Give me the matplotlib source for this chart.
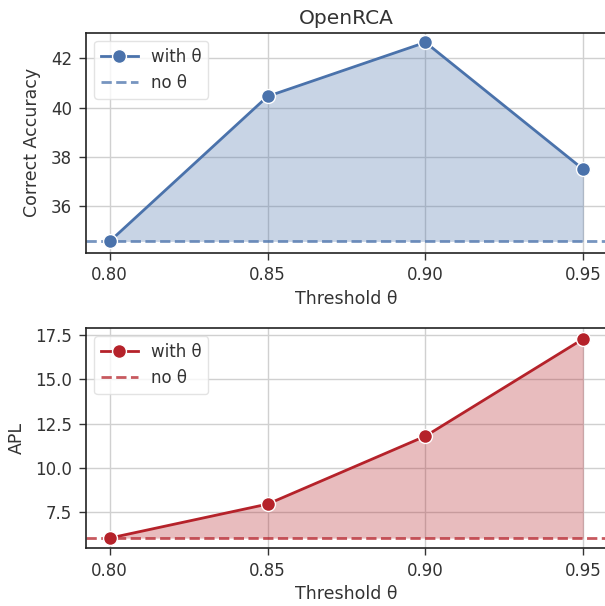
import matplotlib
matplotlib.use("Agg")
import matplotlib.pyplot as plt
import numpy as np

thresholds = [0.80, 0.85, 0.90, 0.95]
acc_with = [34.58, 40.46, 42.65, 37.50]
acc_base = 34.58
apl_with = [6.03, 7.95, 11.79, 17.29]
apl_base = 6.03

blue = "#4a72ab"
red = "#b5222a"

plt.rcParams['font.family'] = ['DejaVu Sans']
fig = plt.figure(figsize=(6.05, 6.06), dpi=100)
ax1 = fig.add_axes([86/605, 1-252.5/606, 521/605, 220/606])
ax2 = fig.add_axes([86/605, 1-548/606, 521/605, 220/606])

def panel(ax, y, base, color, ylabel):
    ax.grid(True, color="#d0d0d0", linewidth=1.0, zorder=0)
    ax.set_axisbelow(True)
    ax.fill_between(thresholds, y, base, color=color, alpha=0.3, linewidth=0, zorder=1)
    ax.plot(thresholds, y, marker='o', color=color, linewidth=2, markersize=10,
            markeredgecolor='white', markeredgewidth=1, label="with θ", zorder=3)
    ax.axhline(base, color=color, linestyle='--', linewidth=2, alpha=0.75, label="no θ", zorder=2)
    ax.set_xlim(0.7925, 0.9575)
    ax.set_xticks(thresholds)
    ax.set_xticklabels(["0.80", "0.85", "0.90", "0.95"])
    ax.set_xlabel("Threshold θ", fontsize=12.5, color="#333333")
    ax.set_ylabel(ylabel, fontsize=12.5, color="#333333", labelpad=7)
    ax.tick_params(labelsize=12, colors="#333333", length=5, width=1, pad=5)
    for s in ax.spines.values():
        s.set_color("#222222")
        s.set_linewidth(1.2)
    leg = ax.legend(loc='upper left', fontsize=12, frameon=True, framealpha=0.8,
                    edgecolor="#dddddd", handlelength=2.2)
    for t in leg.get_texts():
        t.set_color("#333333")

panel(ax1, acc_with, acc_base, blue, "Correct Accuracy")
ax1.set_title("OpenRCA", fontsize=14.5, color="#333333")
ax1.set_yticks([36, 38, 40, 42])
ax1.set_ylim(34.13, 43.05)

panel(ax2, apl_with, apl_base, red, "APL")
ax2.set_yticks([7.5, 10.0, 12.5, 15.0, 17.5])
ax2.set_yticklabels(["7.5", "10.0", "12.5", "15.0", "17.5"])
ax2.set_ylim(5.47, 17.9)

fig.savefig("out.png", dpi=100)
